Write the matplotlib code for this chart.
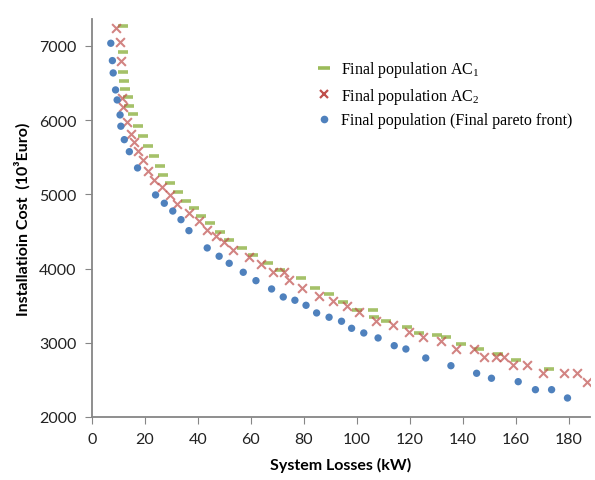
import matplotlib
matplotlib.use("Agg")
import matplotlib.pyplot as plt
from matplotlib.lines import Line2D

# Final population AC1 (green dashes)
ac1_x = [11.6, 11.8, 11.8, 12.1, 12.5, 13.7, 14.1, 15.5, 17.2, 19.2, 21.1, 23.4, 25.7, 26.8,
         29.4, 32.6, 35.6, 38.5, 41.1, 44.5, 48.4, 51.9, 56.5, 60.8, 66.6, 71.1, 78.8, 84.2,
         89.5, 94.6, 100.1, 106.2, 106.4, 110.9, 118.8, 123.5, 130.1, 133.6, 139.2, 146.2,
         153.3, 160.0, 172.6]
ac1_y = [7265, 6915, 6654, 6532, 6420, 6309, 6195, 6077, 5915, 5791, 5646, 5521, 5383, 5261,
         5154, 5028, 4915, 4810, 4705, 4612, 4487, 4379, 4275, 4177, 4069, 3977, 3869, 3734,
         3658, 3546, 3442, 3442, 3342, 3298, 3209, 3128, 3105, 3074, 2984, 2916,
         2849, 2768, 2647]

# Final population AC2 (red x)
ac2_x = [9.1, 10.6, 10.8, 11.2, 11.8, 13.1, 14.7, 16.0, 17.5, 19.3, 21.0, 23.5, 26.5, 29.3,
         32.0, 36.7, 40.5, 43.5, 46.8, 50.0, 53.1, 59.3, 63.8, 68.2, 72.4, 74.4, 79.3, 85.7,
         90.8, 96.1, 100.8, 107.2, 113.5, 119.7, 124.8, 131.6, 137.6, 144.2, 148.0, 152.5,
         155.6, 159.0, 164.3, 170.3, 178.1, 183.1, 186.7]
ac2_y = [7243, 7050, 6794, 6295, 6174, 5980, 5814, 5702, 5589, 5460, 5320, 5200, 5100, 4990,
         4870, 4750, 4637, 4524, 4435, 4360, 4255, 4160, 4060, 3950, 3950, 3850, 3735, 3635,
         3567, 3492, 3411, 3298, 3240, 3141, 3074, 3028, 2916, 2916, 2805, 2805,
         2805, 2701, 2701, 2589, 2589, 2589, 2476]

# Final pareto front (blue dots)
pf_x = [7.1, 7.7, 8.0, 8.9, 9.5, 10.6, 10.9, 12.2, 14.1, 17.2, 24.0, 27.3, 30.5, 33.6, 36.6,
        43.5, 48.0, 51.8, 57.1, 61.9, 67.8, 72.2, 76.6, 80.8, 84.8, 89.5, 94.2, 98.0, 102.6,
        108.0, 114.1, 118.5, 126.0, 135.5, 145.2, 150.8, 160.9, 167.4, 173.5, 179.5]
pf_y = [7036, 6802, 6636, 6407, 6272, 6070, 5918, 5737, 5575, 5356, 4992, 4880, 4775, 4659,
        4511, 4278, 4166, 4071, 3950, 3837, 3725, 3617, 3573, 3505, 3402, 3344, 3290, 3195,
        3132, 3065, 2961, 2916, 2795, 2691, 2589, 2522, 2476, 2368, 2368, 2256]

labels = ["Final population AC$_1$", "Final population AC$_2$",
          "Final population (Final pareto front)"]
xticks = [0, 20, 40, 60, 80, 100, 120, 140, 160, 180]
yticks = [2000, 3000, 4000, 5000, 6000, 7000]

green = "#9BBB59"
red = "#C0504D"
blue = "#4F81BD"
axis_col = "#868686"

plt.rcParams["mathtext.fontset"] = "custom"
plt.rcParams["mathtext.rm"] = "Liberation Serif"

fig = plt.figure(figsize=(5.95, 4.81), dpi=100)
ax = fig.add_axes([0.1546, 0.131, 0.837, 0.827])

ax.scatter(ac1_x, ac1_y, marker="_", s=55, linewidths=2.6, color=green, zorder=3, alpha=0.9)
ax.scatter(ac2_x, ac2_y, marker="x", s=40, linewidths=1.5, color=red, zorder=4, alpha=0.7)
ax.scatter(pf_x, pf_y, marker="o", s=28, color=blue, edgecolors="none", zorder=5)

ax.set_xlim(0, 188)
ax.set_ylim(2000, 7360)
ax.set_xticks(xticks)
ax.set_yticks(yticks)
ax.tick_params(axis="both", direction="out", length=5, color=axis_col,
               labelsize=11.5, labelcolor="#222222", pad=6)
for lab in ax.get_xticklabels() + ax.get_yticklabels():
    lab.set_family("Lato")

for s in ["top", "right"]:
    ax.spines[s].set_visible(False)
for s in ["left", "bottom"]:
    ax.spines[s].set_color(axis_col)
    ax.spines[s].set_linewidth(1.3)

ax.set_xlabel("System Losses (kW)", fontsize=11.5, fontweight="bold", family="Lato", labelpad=8)
ax.set_ylabel("Installatioin Cost  (10\u00b3Euro)", fontsize=11.5, fontweight="bold",
              family="Lato", labelpad=6)

handles = [
    Line2D([], [], marker="_", linestyle="none", markersize=8, markeredgewidth=2.6, color=green),
    Line2D([], [], marker="x", linestyle="none", markersize=6, markeredgewidth=1.6, color=red),
    Line2D([], [], marker="o", linestyle="none", markersize=5.5, markeredgecolor="none", color=blue),
]
leg = ax.legend(handles, labels, loc="upper left", bbox_to_anchor=(0.42, 0.935),
                frameon=False, prop={"family": "Liberation Serif", "size": 11.5},
                handlelength=1.0, handletextpad=0.6, labelspacing=0.4)

fig.savefig("out.png", dpi=100)
